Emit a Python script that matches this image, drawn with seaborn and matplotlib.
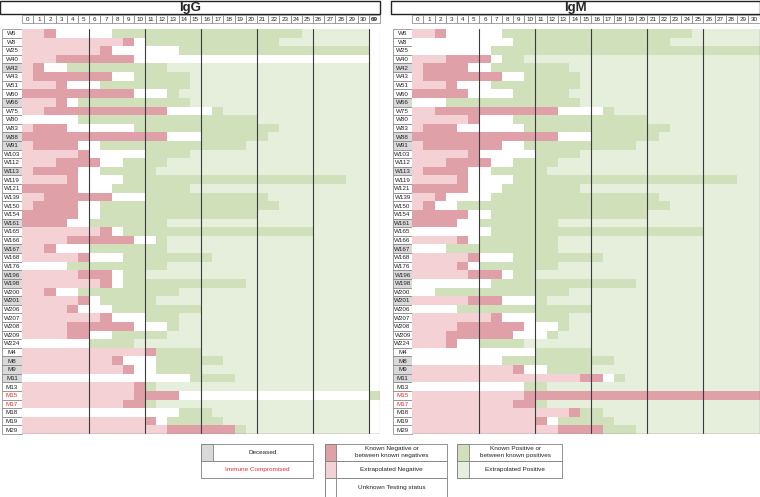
import matplotlib
matplotlib.use("Agg")
import matplotlib.pyplot as plt
from matplotlib.colors import ListedColormap
from matplotlib.patches import Rectangle
import pandas as pd
import seaborn as sns

# rows of the chart
patients = ["W6", "W8", "W25", "W40", "W42", "W43", "W51", "W60", "W66", "W75",
            "W80", "W83", "W88", "W91", "W103", "W112", "W113", "W119", "W121", "W139",
            "W150", "W154", "W161", "W165", "W166", "W167", "W168", "W176", "W196", "W198",
            "W200", "W201", "W206", "W207", "W208", "W209", "W224",
            "M4", "M8", "M9", "M11", "M13", "M15", "M17", "M18", "M19", "M29"]
deceased = ["W42", "W66", "W88", "W91", "W113", "W161", "W167", "W196", "W198", "W201",
            "M8", "M9", "M11"]
immune_compromised = ["M15", "M17"]

igg_days = [str(d) for d in range(31)] + ["69"]
igm_days = [str(d) for d in range(31)]

# status codes per day: 0 unknown, 1 known negative, 2 extrapolated negative,
# 3 known positive, 4 extrapolated positive
# groups: days 0-5 | 6-10 | 11-15 | 16-20 | 21-25 | 26-30 | 69
igg_status = [
    "221000 00333 33333 33333 33334 44444 0",  # W6
    "222222 22210 33333 33333 33444 44444 0",  # W8
    "222222 21000 00033 33333 33333 33333 0",  # W25
    "222111 11110 00000 00000 00000 00000 0",  # W40
    "210033 33333 33444 44444 44444 44444 0",  # W42
    "211111 11003 33334 44444 44444 44444 0",  # W43
    "222100 03333 33334 44444 44444 44444 0",  # W51
    "111111 11110 00344 44444 44444 44444 0",  # W60
    "222103 33333 33334 44444 44444 44444 0",  # W66
    "221111 11111 11000 03444 44444 44444 0",  # W75
    "000003 33333 33333 33333 44444 44444 0",  # W80
    "211100 00003 33333 33333 33444 44444 0",  # W83
    "111111 11111 11000 33333 34444 44444 0",  # W88
    "211110 03333 33333 33334 44444 44444 0",  # W91
    "222221 00000 33334 44444 44444 44444 0",  # W103
    "222111 10033 33444 44444 44444 44444 0",  # W112
    "211110 03333 34444 44444 44444 44444 0",  # W113
    "222210 00033 33333 33333 33333 33344 0",  # W119
    "111110 00333 33334 44444 44444 44444 0",  # W121
    "221111 11000 33333 33333 34444 44444 0",  # W139
    "211110 03333 33333 33333 33444 44444 0",  # W150
    "111110 03333 33333 33333 44444 44444 0",  # W154
    "111100 33333 33444 44444 44444 44444 0",  # W161
    "222222 21033 33333 33333 33333 44444 0",  # W165
    "222211 11110 03444 44444 44444 44444 0",  # W166
    "221000 33333 33444 44444 44444 44444 0",  # W167
    "222221 00033 33333 34444 44444 44444 0",  # W168
    "000033 33333 33444 44444 44444 44444 0",  # W176
    "222221 11033 44444 44444 44444 44444 0",  # W196
    "222222 21033 33333 33334 44444 44444 0",  # W198
    "221003 33333 33344 44444 44444 44444 0",  # W200
    "222221 03333 34444 44444 44444 44444 0",  # W201
    "222210 00333 33333 44444 44444 44444 0",  # W206
    "222222 21000 33344 44444 44444 44444 0",  # W207
    "222211 11110 00344 44444 44444 44444 0",  # W208
    "222211 00333 33444 44444 44444 44444 0",  # W209
    "000000 33334 44444 44444 44444 44444 0",  # W224
    "222222 22222 13333 44444 44444 44444 0",  # M4
    "222222 22100 03333 33444 44444 44444 0",  # M8
    "222222 22210 03333 44444 44444 44444 0",  # M9
    "000000 00000 00003 33344 44444 44444 0",  # M11
    "222222 22221 34444 44444 44444 44444 0",  # M13
    "222222 22221 11100 00000 00000 00000 3",  # M15
    "222222 22211 34444 44444 44444 44444 0",  # M17
    "000000 00000 00033 34444 44444 44444 0",  # M18
    "222222 22222 10333 33444 44444 44444 0",  # M19
    "222222 22222 22111 11134 44444 44444 0",  # M29
]

igm_status = [
    "221000 00333 33333 33333 33334 44444",  # W6
    "000000 00033 33333 33333 33444 44444",  # W8
    "000000 03333 33333 33333 33333 33333",  # W25
    "222111 10334 44444 44444 44444 44444",  # W40
    "211110 03333 33344 44444 44444 44444",  # W42
    "211111 11003 33334 44444 44444 44444",  # W43
    "222100 03333 33334 44444 44444 44444",  # W51
    "111110 00033 33344 44444 44444 44444",  # W60
    "000333 33333 33334 44444 44444 44444",  # W66
    "221111 11111 11000 03444 44444 44444",  # W75
    "222221 00033 33333 33333 44444 44444",  # W80
    "211100 00003 33333 33333 33444 44444",  # W83
    "111111 11111 11000 33333 34444 44444",  # W88
    "211111 11003 33333 33334 44444 44444",  # W91
    "222221 00000 33334 44444 44444 44444",  # W103
    "222111 10033 33444 44444 44444 44444",  # W112
    "211110 03333 34444 44444 44444 44444",  # W113
    "222210 00033 33333 33333 33333 33344",  # W119
    "111110 00333 33334 44444 44444 44444",  # W121
    "221000 03333 33333 33333 34444 44444",  # W139
    "210033 33333 33333 33333 33444 44444",  # W150
    "111110 03333 33333 33333 44444 44444",  # W154
    "111100 33333 33444 44444 44444 44444",  # W161
    "000000 03333 33333 33333 33333 44444",  # W165
    "222210 33333 33444 44444 44444 44444",  # W166
    "000333 33333 33444 44444 44444 44444",  # W167
    "222221 00033 33333 34444 44444 44444",  # W168
    "222210 33333 33444 44444 44444 44444",  # W176
    "222221 11033 44444 44444 44444 44444",  # W196
    "000000 03333 33333 33334 44444 44444",  # W198
    "003333 33333 33344 44444 44444 44444",  # W200
    "222221 11000 34444 44444 44444 44444",  # W201
    "000033 33333 33333 44444 44444 44444",  # W206
    "222222 21000 33344 44444 44444 44444",  # W207
    "222211 11110 00344 44444 44444 44444",  # W208
    "222111 11100 03444 44444 44444 44444",  # W209
    "222100 33334 44444 44444 44444 44444",  # W224
    "000000 00000 33333 44444 44444 44444",  # M4
    "000000 00333 33333 33444 44444 44444",  # M8
    "222222 22210 03333 44444 44444 44444",  # M9
    "222222 22222 22221 10344 44444 44444",  # M11
    "000000 00003 34444 44444 44444 44444",  # M13
    "222222 22221 11111 11111 11111 11111",  # M15
    "222222 22211 34444 44444 44444 44444",  # M17
    "222222 22222 22213 34444 44444 44444",  # M18
    "222222 22222 10333 33444 44444 44444",  # M19
    "222222 22222 22111 13334 44444 44444",  # M29
]

status_colors = ["#ffffff", "#dfa1a7", "#f3d1d4", "#cfe0bb", "#e6efdc"]
legend_labels = ["Unknown Testing status", "Known Negative or\nbetween known negatives",
                 "Extrapolated Negative", "Known Positive or\nbetween known positives",
                 "Extrapolated Positive"]
deceased_color = "#d9d9d9"
ic_color = "#e0302a"
line_color = "#3c3c3c"
edge_color = "#808080"

W, H = 760, 497

sns.set_style("white")
plt.rcParams["font.family"] = ["Liberation Sans", "DejaVu Sans"]

fig = plt.figure(figsize=(W / 100, H / 100), dpi=100)
cmap = ListedColormap(status_colors)


def px_axes(x0, y0, x1, y1):
    return fig.add_axes([x0 / W, 1 - y1 / H, (x1 - x0) / W, (y1 - y0) / H])


def draw_panel(title, status, days, lab_x0, map_x0, map_x1):
    grid = [[int(c) for c in row.replace(" ", "")] for row in status]
    df = pd.DataFrame(grid, index=patients, columns=days)
    n_rows, n_cols = df.shape

    # title bar
    ax_t = px_axes(lab_x0 - 2, 1, map_x1, 14)
    ax_t.set_xlim(0, 1)
    ax_t.set_ylim(0, 1)
    ax_t.axis("off")
    ax_t.add_patch(Rectangle((0, 0), 1, 1, facecolor="white", edgecolor="#222222",
                             lw=1.0, clip_on=False))
    ax_t.text(0.5, 0.45, title, ha="center", va="center", fontsize=9.5, fontweight="bold")

    # day header
    ax_h = px_axes(map_x0, 15, map_x1, 22.5)
    ax_h.set_xlim(0, n_cols)
    ax_h.set_ylim(0, 1)
    ax_h.axis("off")
    for j, d in enumerate(days):
        ax_h.add_patch(Rectangle((j, 0), 1, 1, facecolor="white", edgecolor=edge_color,
                                 lw=0.5, clip_on=False))
        ax_h.text(j + 0.5, 0.45, d, ha="center", va="center", fontsize=4.5,
                  fontweight="bold" if d == "69" else "normal")

    # patient labels
    ax_l = px_axes(lab_x0, 29, map_x0, 434)
    ax_l.set_xlim(0, 1)
    ax_l.set_ylim(n_rows, 0)
    ax_l.axis("off")
    for i, p in enumerate(patients):
        fc = deceased_color if p in deceased else "white"
        ax_l.add_patch(Rectangle((0, i), 1, 1, facecolor=fc, edgecolor=edge_color,
                                 lw=0.5, clip_on=False))
        ax_l.text(0.5, i + 0.55, p, ha="center", va="center", fontsize=4.5,
                  color=ic_color if p in immune_compromised else "#222222")

    # status grid
    ax = px_axes(map_x0, 29, map_x1, 434)
    sns.heatmap(df, ax=ax, cmap=cmap, vmin=-0.5, vmax=4.5, cbar=False,
                xticklabels=False, yticklabels=False)
    ax.set_xlabel("")
    ax.set_ylabel("")
    for x in range(6, 32, 5):
        ax.axvline(x, color=line_color, lw=0.8)
    ax.axhline(n_rows, color=edge_color, lw=1.0)
    ax.axvline(n_cols, color=edge_color, lw=0.8)
    return ax


draw_panel("IgG", igg_status, igg_days, 2, 22.1, 380)
draw_panel("IgM", igm_status, igm_days, 393, 412.2, 759.5)

# legend drawn as a small table
ax_leg = fig.add_axes([0, 0, 1, 1], zorder=-1)
ax_leg.set_xlim(0, W)
ax_leg.set_ylim(H, 0)
ax_leg.axis("off")


def legend_row(x0, x1, y0, y1, color, label, swatch=True, text_color="#222222"):
    ax_leg.add_patch(Rectangle((x0, y0), x1 - x0, y1 - y0, facecolor="white",
                               edgecolor=edge_color, lw=0.6))
    if swatch:
        ax_leg.add_patch(Rectangle((x0, y0), 11.5, y1 - y0, facecolor=color,
                                   edgecolor=edge_color, lw=0.6))
        cx = (x0 + 11.5 + x1) / 2
    else:
        cx = (x0 + x1) / 2
    ax_leg.text(cx, (y0 + y1) / 2, label, ha="center", va="center", fontsize=4.6,
                color=text_color, linespacing=1.3)


legend_row(201, 313, 443.5, 460.5, deceased_color, "Deceased")
legend_row(201, 313, 460.5, 478, None, "Immune Compromised", swatch=False, text_color=ic_color)
legend_row(324.5, 447, 443.5, 460.5, status_colors[1], legend_labels[1])
legend_row(324.5, 447, 460.5, 478, status_colors[2], legend_labels[2])
legend_row(324.5, 447, 478, 496.5, status_colors[0], legend_labels[0])
legend_row(457, 562, 443.5, 460.5, status_colors[3], legend_labels[3])
legend_row(457, 562, 460.5, 478, status_colors[4], legend_labels[4])

fig.savefig("out.png", dpi=100)
